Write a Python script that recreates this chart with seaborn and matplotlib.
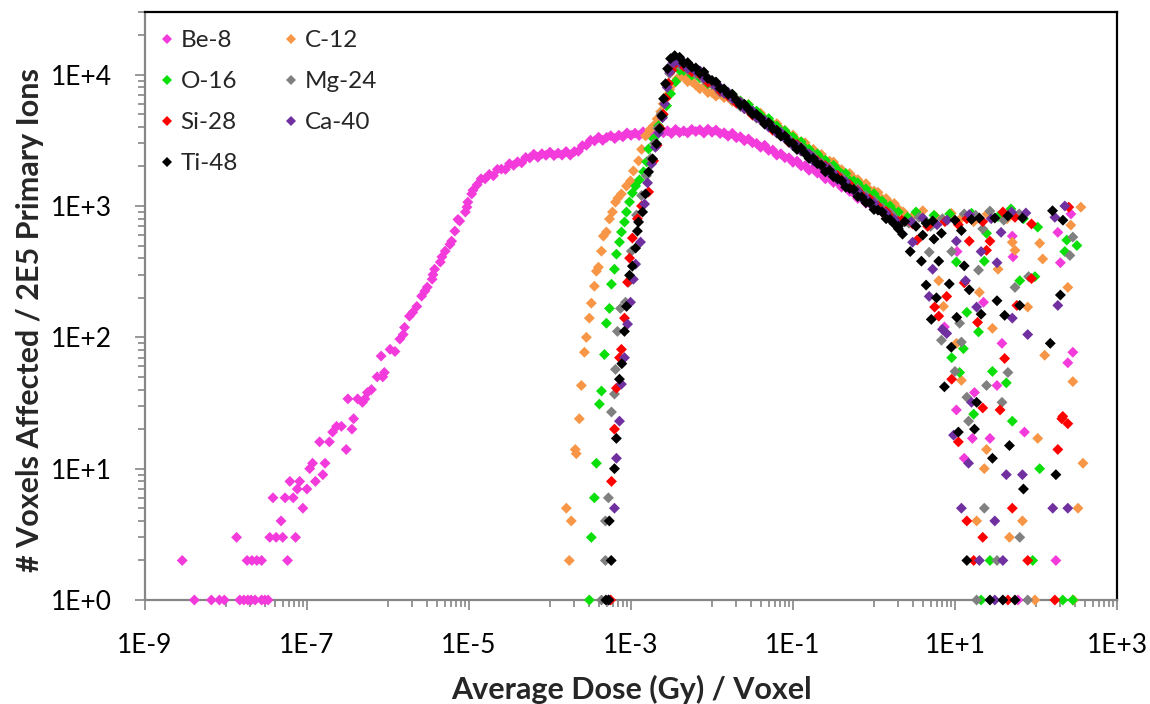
import matplotlib
matplotlib.use("Agg")
import numpy as np
import pandas as pd
import matplotlib.pyplot as plt
from matplotlib.lines import Line2D
from matplotlib.ticker import FixedLocator, NullFormatter, LogLocator
import seaborn as sns

ions = ["Be-8", "C-12", "O-16", "Mg-24", "Si-28", "Ca-40", "Ti-48"]
colors = ["#F33BDB", "#F79646", "#0ADF0A", "#808080", "#FF0000", "#7030A0", "#000000"]

# ---------------- Be-8 ----------------
be8_low_dose = [4.07e-9, 6.60e-9, 8.30e-9, 9.53e-9, 1.48e-8, 1.66e-8, 1.86e-8, 2.04e-8, 2.29e-8, 2.75e-8, 3.02e-8, 3.31e-8,
                2.88e-9, 1.82e-8, 2.09e-8, 2.40e-8, 2.75e-8, 5.75e-8,
                1.35e-8, 3.47e-8, 4.16e-8, 5.01e-8, 7.23e-8,
                4.78e-8, 8.90e-8, 3.80e-8, 5.36e-8, 6.75e-8, 7.58e-8, 9.98e-8, 6.15e-8, 8.12e-8]
be8_low_count = [1, 1, 1, 1, 1, 1, 1, 1, 1, 1, 1, 1,
                 2, 2, 2, 2, 2, 2,
                 3, 3, 3, 3, 3,
                 4, 5, 6, 6, 6, 7, 7, 8, 8]

be8_rise_dose = [1.08e-7, 1.17e-7, 1.27e-7, 1.43e-7, 1.57e-7, 1.67e-7, 1.89e-7, 2.07e-7, 2.32e-7, 2.66e-7,
                 3.05e-7, 3.20e-7, 3.59e-7, 3.76e-7, 4.22e-7, 4.84e-7, 5.19e-7, 5.57e-7, 6.24e-7, 7.34e-7,
                 8.23e-7, 8.62e-7, 9.02e-7, 1.06e-6, 1.22e-6, 1.40e-6, 1.54e-6, 1.60e-6, 1.84e-6, 2.02e-6,
                 2.27e-6, 2.60e-6, 2.85e-6, 3.05e-6, 3.51e-6, 3.59e-6, 3.76e-6, 4.42e-6, 4.63e-6, 5.08e-6,
                 5.83e-6, 6.10e-6, 6.69e-6, 7.31e-6, 7.67e-6, 9.02e-6, 9.43e-6, 9.67e-6, 1.08e-5]
be8_rise_count = [10, 11, 8, 16, 9, 11, 16, 19, 21, 21,
                  14, 34, 20, 24, 34, 32, 34, 38, 40, 50,
                  72, 50, 54, 81, 78, 97, 105, 119, 145, 155,
                  172, 206, 225, 241, 277, 300, 330, 374, 410, 453,
                  510, 540, 644, 790, 768, 900, 980, 1070, 1236]

be8_band_dose = [1.12e-5, 1.26e-5, 1.41e-5, 1.58e-5, 1.78e-5, 2.00e-5, 2.24e-5, 2.51e-5, 2.82e-5, 3.16e-5,
                 3.55e-5, 3.98e-5, 4.47e-5, 5.01e-5, 5.62e-5, 6.31e-5, 7.08e-5, 7.94e-5, 8.91e-5, 1.00e-4,
                 1.12e-4, 1.26e-4, 1.41e-4, 1.58e-4, 1.78e-4, 2.00e-4, 2.24e-4, 2.51e-4, 2.82e-4, 3.16e-4,
                 3.55e-4, 3.98e-4, 4.47e-4, 5.01e-4, 5.62e-4, 6.31e-4, 7.08e-4, 7.94e-4, 8.91e-4, 1.00e-3,
                 1.12e-3, 1.26e-3, 1.41e-3, 1.58e-3, 1.78e-3, 2.00e-3, 2.24e-3, 2.51e-3, 2.82e-3, 3.16e-3,
                 3.55e-3, 3.98e-3, 4.47e-3, 5.01e-3, 5.62e-3, 6.31e-3, 7.08e-3, 7.94e-3, 8.91e-3, 1.00e-2,
                 1.12e-2, 1.26e-2, 1.41e-2, 1.58e-2, 1.78e-2, 2.00e-2, 2.24e-2, 2.51e-2, 2.82e-2, 3.16e-2,
                 3.55e-2, 3.98e-2, 4.47e-2, 5.01e-2, 5.62e-2, 6.31e-2, 7.08e-2, 7.94e-2, 8.91e-2, 1.00e-1,
                 0.112, 0.126, 0.141, 0.158, 0.178, 0.200, 0.224, 0.251, 0.282, 0.316,
                 0.355, 0.398, 0.447, 0.501, 0.562, 0.631, 0.708, 0.794, 0.891, 1.00]
be8_band_count = [1318, 1450, 1610, 1610, 1740, 1700, 1900, 1910, 1900, 2100,
                  2040, 2170, 2130, 2340, 2320, 2480, 2350, 2500, 2430, 2570,
                  2420, 2530, 2440, 2600, 2440, 2600, 2610, 2880, 2900, 3170,
                  3130, 3340, 3160, 3330, 3430, 3260, 3460, 3360, 3600, 3450,
                  3590, 3440, 3670, 3510, 3630, 3470, 3740, 3610, 3740, 3560,
                  3830, 3620, 3730, 3600, 3830, 3690, 3810, 3590, 3850, 3640,
                  3790, 3560, 3610, 3400, 3580, 3310, 3370, 3140, 3240, 3030,
                  3000, 2800, 2900, 2650, 2670, 2440, 2500, 2330, 2330, 2150,
                  2200, 2020, 2030, 1870, 1940, 1780, 1740, 1610, 1650, 1510,
                  1520, 1390, 1410, 1290, 1250, 1140, 1160, 1050, 1045, 990]

be8_spread_dose = [270, 186, 200, 51, 52, 22.5, 7.4, 38, 285, 247,
                   33, 17.4, 10.4, 16.4, 27, 72, 13, 176, 60, 10.6]
be8_spread_count = [870, 630, 370, 590, 410, 185, 120, 90, 77, 64,
                    43, 38, 28, 17, 17, 19, 12, 2, 1, 450]

# dose bins along the falling side of the heavy-ion peak (shared by all heavy ions)
tail_dose = [3.98e-3, 4.47e-3, 5.01e-3, 5.62e-3, 6.31e-3, 7.08e-3, 7.94e-3, 8.91e-3, 1.00e-2, 1.12e-2,
             1.26e-2, 1.41e-2, 1.58e-2, 1.78e-2, 2.00e-2, 2.24e-2, 2.51e-2, 2.82e-2, 3.16e-2, 3.55e-2,
             3.98e-2, 4.47e-2, 5.01e-2, 5.62e-2, 6.31e-2, 7.08e-2, 7.94e-2, 8.91e-2, 0.100, 0.112,
             0.126, 0.141, 0.158, 0.178, 0.200, 0.224, 0.251, 0.282, 0.316, 0.355,
             0.398, 0.447, 0.501, 0.562, 0.631, 0.708, 0.794, 0.891, 1.00, 1.12,
             1.26, 1.41, 1.58, 1.78, 2.00]

# ---------------- C-12 ----------------
c12_rise_dose = [1.59e-4, 1.73e-4, 1.83e-4, 2.05e-4, 2.11e-4, 2.30e-4, 2.44e-4, 2.66e-4, 2.81e-4, 3.06e-4,
                 3.24e-4, 3.53e-4, 3.74e-4, 3.96e-4, 4.32e-4, 4.56e-4, 4.97e-4, 5.42e-4, 5.90e-4, 6.43e-4,
                 6.90e-4, 7.62e-4, 8.79e-4, 9.86e-4, 1.07e-3, 1.24e-3, 1.35e-3, 1.51e-3, 1.70e-3, 1.90e-3,
                 2.10e-3, 2.32e-3, 2.50e-3, 2.75e-3, 3.00e-3, 3.36e-3, 3.70e-3]
c12_rise_count = [5, 2, 4, 14, 13, 24, 43, 77, 100, 140,
                  182, 245, 319, 342, 453, 590, 634, 796, 900, 1070,
                  1150, 1236, 1420, 1553, 1850, 2206, 2700, 3420, 3800, 4080,
                  4600, 5220, 6000, 6920, 7700, 8540, 9300]
c12_tail_count = [9470, 9720, 8850, 8880, 8320, 7800, 8070, 7300, 7310, 6870,
                  7130, 6690, 6740, 6270, 6500, 6110, 5780, 5930, 5270, 5230,
                  5090, 4620, 4490, 4150, 4240, 3840, 3770, 3420, 3470, 3150,
                  3090, 3030, 2700, 2700, 2490, 2470, 2220, 2200, 2160, 1950,
                  1890, 1750, 1770, 1620, 1590, 1450, 1480, 1320, 1300, 1270,
                  1130, 1140, 1050, 1045, 950]
c12_spread_dose = [2.3, 3.1, 4.0, 5.8, 9.0, 12, 17, 25, 44, 358,
                   269, 51, 55, 111, 121, 34, 247, 20, 79, 29,
                   128, 285, 12, 6.3, 7.2, 10.4, 105, 24.5, 23, 380,
                   330, 18.5, 68, 47, 97, 290]
c12_spread_count = [900, 850, 920, 830, 880, 810, 760, 870, 800, 980,
                    715, 530, 460, 520, 395, 330, 240, 220, 170, 117,
                    73, 46, 47, 270, 172, 90, 17, 14, 10, 11,
                    5, 4, 4, 3, 1, 1]

# ---------------- O-16 ----------------
o16_rise_dose = [3.06e-4, 3.24e-4, 3.53e-4, 3.74e-4, 4.07e-4, 4.32e-4, 4.70e-4, 4.97e-4, 5.42e-4, 5.74e-4,
                 6.25e-4, 6.61e-4, 7.21e-4, 7.63e-4, 8.31e-4, 8.79e-4, 9.58e-4, 1.04e-3, 1.14e-3, 1.27e-3,
                 1.43e-3, 1.56e-3, 1.65e-3, 1.90e-3, 2.19e-3, 2.46e-3, 2.75e-3, 3.08e-3, 3.56e-3]
o16_rise_count = [1, 3, 6, 11, 31, 39, 74, 128, 166, 254,
                  330, 430, 531, 634, 755, 900, 1073, 1257, 1420, 1580,
                  1820, 2170, 2720, 3250, 4080, 4860, 5800, 7160, 8850]
o16_tail_count = [10810, 10740, 10910, 9920, 10090, 9450, 9530, 8530, 8510, 8330,
                  7600, 7600, 6920, 7090, 6460, 6310, 5800, 5900, 5330, 5280,
                  4920, 4540, 4630, 4150, 4060, 3710, 3740, 3420, 3350, 3030,
                  3080, 2760, 2710, 2470, 2490, 2280, 2230, 2000, 2040, 1880,
                  1750, 1770, 1560, 1550, 1500, 1360, 1350, 1210, 1240, 1120,
                  1090, 990, 1000, 905, 900]
o16_spread_dose = [2.6, 3.3, 4.2, 5.5, 8.6, 16, 34, 49, 70, 105,
                   24.5, 10.4, 23, 63, 97, 14, 19.5, 12.7, 9.1, 29,
                   43, 11.4, 320, 227, 240, 17, 51, 111, 91, 27,
                   21, 214, 285]
o16_spread_count = [820, 900, 780, 850, 870, 880, 830, 950, 800, 690,
                    620, 375, 380, 270, 290, 155, 110, 82, 70, 55,
                    45, 54, 500, 450, 550, 26, 23, 10, 2, 2,
                    1, 1, 1]

# ---------------- Mg-24 ----------------
mg24_rise_dose = [4.32e-4, 4.83e-4, 4.83e-4, 5.26e-4, 5.74e-4, 6.25e-4, 6.43e-4, 6.80e-4, 7.41e-4, 8.55e-4,
                  9.30e-4, 1.01e-3, 1.17e-3, 1.35e-3, 1.55e-3, 1.75e-3, 1.95e-3, 2.15e-3, 2.35e-3, 2.55e-3,
                  2.75e-3, 3.00e-3, 3.40e-3]
mg24_rise_count = [1, 2, 4, 6, 27, 37, 57, 111, 166, 185,
                   263, 453, 854, 1200, 1700, 2300, 3000, 3900, 5000, 6500,
                   8300, 10200, 11800]
mg24_tail_count = [11770, 11770, 10920, 11030, 10120, 10020, 9140, 9220, 8420, 8220,
                   7350, 7490, 6910, 6420, 6470, 5720, 5720, 5280, 5210, 4660,
                   4610, 4500, 4030, 3900, 3590, 3620, 3310, 3220, 2910, 2880,
                   2820, 2530, 2440, 2390, 2130, 2130, 1970, 1970, 1740, 1720,
                   1660, 1500, 1450, 1340, 1360, 1230, 1200, 1090, 1100, 1000,
                   970, 880, 890, 820, 765]
mg24_spread_dose = [2.7, 3.6, 5.0, 7.0, 13, 18, 27, 40, 62, 22,
                    19.5, 55, 11.4, 6.8, 12, 10, 45, 24.5, 14, 38,
                    285, 262, 9.1, 4.8, 81, 14.7, 23, 63, 33, 18.5,
                    79]
mg24_spread_count = [740, 820, 700, 800, 870, 850, 915, 780, 870, 670,
                     325, 240, 128, 95, 92, 55, 54, 43, 35, 32,
                     580, 420, 450, 445, 290, 23, 5, 3, 2, 1,
                     1]

# ---------------- Si-28 ----------------
si28_rise_dose = [5.60e-4, 5.74e-4, 6.25e-4, 6.61e-4, 7.21e-4, 7.62e-4, 8.31e-4, 9.06e-4, 9.60e-4, 1.04e-3,
                  1.20e-3, 1.35e-3, 1.65e-3, 1.90e-3, 2.10e-3, 2.30e-3, 2.50e-3, 2.70e-3, 2.90e-3, 3.20e-3,
                  3.60e-3]
si28_rise_count = [1, 8, 20, 41, 70, 81, 140, 263, 401, 570,
                   800, 1000, 1280, 2205, 2900, 3900, 5000, 6600, 8600, 10800,
                   12300]
si28_tail_count = [12780, 11550, 11370, 10500, 10940, 9990, 9760, 8720, 8870, 8160,
                   7510, 7560, 6900, 6730, 6070, 6180, 5520, 5390, 4920, 4940,
                   4560, 4240, 4260, 3770, 3760, 3470, 3410, 3050, 3010, 2940,
                   2630, 2550, 2480, 2220, 2210, 2020, 2030, 1830, 1710, 1710,
                   1580, 1470, 1460, 1310, 1310, 1210, 1120, 1130, 1020, 1000,
                   900, 910, 835, 780, 765]
si28_spread_dose = [2.2, 3.0, 4.6, 7.5, 11, 14, 22, 39, 55, 88,
                    254, 15, 27, 24.5, 3.4, 7.9, 5.6, 6.3, 13, 19,
                    88, 58, 41, 9.1, 36, 214, 22, 208, 247, 11,
                    186, 51, 14, 22, 79, 17, 45, 171]
si28_spread_count = [780, 730, 700, 760, 720, 800, 760, 900, 820, 730,
                     980, 540, 540, 460, 550, 205, 170, 145, 260, 130,
                     280, 175, 69, 48, 28, 25, 29, 24, 22, 16,
                     14, 5, 4, 3, 2, 2, 1, 1]

# ---------------- Ca-40 ----------------
ca40_rise_dose = [5.26e-4, 6.25e-4, 6.61e-4, 7.21e-4, 7.62e-4, 8.31e-4, 9.06e-4, 9.86e-4, 1.07e-3, 1.14e-3,
                  1.31e-3, 1.47e-3, 1.60e-3, 1.80e-3, 2.00e-3, 2.20e-3, 2.45e-3, 2.60e-3, 2.80e-3, 3.00e-3,
                  3.30e-3, 3.60e-3]
ca40_rise_count = [1, 5, 12, 23, 44, 70, 126, 185, 277, 361,
                   531, 1035, 1500, 2100, 2800, 3600, 4700, 6000, 8000, 10500,
                   12300, 12800]
ca40_tail_count = [12450, 12420, 11160, 11260, 10620, 10690, 9450, 9320, 9000, 8110,
                   8010, 7210, 7330, 6600, 6380, 6170, 5510, 5490, 5290, 4730,
                   4530, 4470, 3990, 3980, 3610, 3630, 3280, 3160, 2880, 2890,
                   2620, 2580, 2490, 2200, 2170, 2010, 1990, 1790, 1770, 1590,
                   1570, 1530, 1370, 1310, 1290, 1150, 1150, 1050, 1050, 940,
                   910, 880, 790, 790, 720]
ca40_spread_dose = [2.9, 4.0, 6.0, 8.0, 15, 28, 50, 75, 227, 171,
                    37, 21, 33, 13.5, 4.8, 18.5, 51, 79, 186, 7.0,
                    7.9, 16, 10.4, 3.0, 5.3, 9.6, 14.7, 43, 68, 12,
                    161, 247, 31, 20, 39, 31]
ca40_spread_count = [760, 810, 720, 780, 860, 800, 900, 885, 1000, 820,
                     630, 450, 370, 270, 205, 170, 140, 105, 175, 115,
                     107, 32, 540, 530, 330, 18, 11, 9, 9, 5,
                     5, 5, 4, 2, 2, 1]

# ---------------- Ti-48 ----------------
ti48_rise_dose = [4.90e-4, 5.30e-4, 5.40e-4, 5.70e-4, 6.25e-4, 6.60e-4, 7.20e-4, 7.70e-4, 8.30e-4, 8.80e-4,
                  9.60e-4, 1.04e-3, 1.14e-3, 1.20e-3, 1.24e-3, 1.39e-3, 1.51e-3, 1.65e-3, 1.85e-3, 2.07e-3,
                  2.25e-3, 2.39e-3, 2.53e-3, 2.67e-3, 2.83e-3, 3.08e-3, 3.46e-3]
ti48_rise_count = [1, 1, 4, 2, 10, 17, 48, 63, 111, 172,
                   297, 348, 478, 644, 755, 900, 1235, 1820, 2285, 2970,
                   3870, 4860, 6560, 8540, 11100, 13250, 13960]
ti48_tail_count = [13570, 12220, 12360, 11390, 11260, 10240, 10490, 9360, 9030, 8800,
                   7840, 7790, 7090, 7100, 6400, 5870, 5950, 5470, 5010, 4990,
                   4680, 4200, 4310, 3880, 3770, 3400, 3410, 3070, 2990, 2690,
                   2760, 2510, 2300, 2310, 2100, 2050, 1820, 1870, 1670, 1620,
                   1560, 1390, 1360, 1340, 1180, 1170, 1060, 1060, 940, 930,
                   900, 800, 790, 730, 700]
ti48_spread_dose = [2.0, 2.25, 2.4, 3.3, 4.4, 5.3, 6.8, 10, 12, 16,
                    20, 31, 45, 68, 160, 215, 2.8, 3.85, 6.3, 13,
                    8.5, 4.4, 5.9, 15, 33, 5.1, 10.5, 41, 63, 21,
                    9.0, 150, 200, 7.4, 18.5, 11, 17.4, 47, 29, 176,
                    70, 14, 27, 39, 55, 4.0, 5.5]
ti48_spread_count = [670, 610, 760, 700, 740, 770, 620, 780, 650, 790,
                     810, 810, 840, 810, 920, 780, 450, 380, 380, 350,
                     255, 250, 200, 230, 190, 137, 142, 147, 175, 150,
                     84, 90, 210, 42, 32, 19, 20, 15, 12, 9,
                     7, 2, 1, 1, 1, 600, 560]

# ---------------- assemble in drawing order (Ti-48 ends up on top) ----------------
def series(ion, dose_parts, count_parts):
    dose = [d for part in dose_parts for d in part]
    count = [c for part in count_parts for c in part]
    return pd.DataFrame({"ion": ion, "dose": dose, "count": count})

df = pd.concat([
    series("Be-8", [be8_low_dose, be8_rise_dose, be8_band_dose, be8_spread_dose],
           [be8_low_count, be8_rise_count, be8_band_count, be8_spread_count]),
    series("C-12", [c12_rise_dose, tail_dose, c12_spread_dose],
           [c12_rise_count, c12_tail_count, c12_spread_count]),
    series("O-16", [o16_rise_dose, tail_dose, o16_spread_dose],
           [o16_rise_count, o16_tail_count, o16_spread_count]),
    series("Mg-24", [mg24_rise_dose, tail_dose, mg24_spread_dose],
           [mg24_rise_count, mg24_tail_count, mg24_spread_count]),
    series("Si-28", [si28_rise_dose, tail_dose, si28_spread_dose],
           [si28_rise_count, si28_tail_count, si28_spread_count]),
    series("Ca-40", [ca40_rise_dose, tail_dose, ca40_spread_dose],
           [ca40_rise_count, ca40_tail_count, ca40_spread_count]),
    series("Ti-48", [ti48_rise_dose, tail_dose, ti48_spread_dose],
           [ti48_rise_count, ti48_tail_count, ti48_spread_count]),
], ignore_index=True)

x_major = [1e-9, 1e-7, 1e-5, 1e-3, 1e-1, 1e1, 1e3]
x_labels = ["1E-9", "1E-7", "1E-5", "1E-3", "1E-1", "1E+1", "1E+3"]
y_major = [1, 10, 100, 1000, 10000]
y_labels = ["1E+0", "1E+1", "1E+2", "1E+3", "1E+4"]

# ---------------- figure ----------------
sns.set_theme(style="white")
plt.rcParams["font.family"] = ["Lato", "DejaVu Sans"]

fig = plt.figure(figsize=(11.5, 7.04), dpi=100)
ax = fig.add_axes([145 / 1150, 104 / 704, 972 / 1150, 588 / 704])
ax.set_xscale("log")
ax.set_yscale("log")

palette = dict(zip(ions, colors))
sns.scatterplot(data=df, x="dose", y="count", hue="ion", hue_order=ions, palette=palette,
                marker="D", s=31, linewidth=0, legend=False, ax=ax, clip_on=False, zorder=3)

ax.set_xlim(1e-9, 1e3)
ax.set_ylim(1, 3e4)
ax.set_xlabel("")
ax.set_ylabel("")

ax.set_xticks(x_major)
ax.set_xticklabels(x_labels)
minor_x = [m * 10 * d for d in x_major[:-1] for m in range(1, 10)]
ax.xaxis.set_minor_locator(FixedLocator(minor_x))
ax.xaxis.set_minor_formatter(NullFormatter())

ax.set_yticks(y_major)
ax.set_yticklabels(y_labels)
ax.yaxis.set_minor_locator(LogLocator(base=10, subs=np.arange(2, 10), numticks=50))
ax.yaxis.set_minor_formatter(NullFormatter())

axis_grey = "#868686"
ax.tick_params(axis="both", which="both", bottom=True, left=True, top=False, right=False,
               direction="out", color=axis_grey, width=1.2)
ax.tick_params(axis="both", which="major", length=7, labelsize=19, labelcolor="black", pad=17)
ax.tick_params(axis="both", which="minor", length=5)

for side in ["left", "bottom"]:
    ax.spines[side].set_color(axis_grey)
    ax.spines[side].set_linewidth(1.6)
for side in ["top", "right"]:
    ax.spines[side].set_color("black")
    ax.spines[side].set_linewidth(1.6)

fig.text(631 / 1150, 1 - 689 / 704, "Average Dose (Gy) / Voxel", ha="center", va="center",
         fontsize=22, fontweight="bold")
fig.text(30 / 1150, 1 - 320 / 704, "# Voxels Affected / 2E5 Primary Ions", rotation=90,
         ha="center", va="center", fontsize=22, fontweight="bold")

# two-column legend, filled row by row
legend_order = ["Be-8", "O-16", "Si-28", "Ti-48", "C-12", "Mg-24", "Ca-40"]
handles = [Line2D([], [], marker="D", linestyle="", color=palette[n], markersize=5.5,
                  markeredgewidth=0) for n in legend_order]
ax.legend(handles, legend_order, ncol=2, loc="upper left", bbox_to_anchor=(0.0154, 0.969),
          frameon=False, fontsize=17.5, handlelength=0.55, handletextpad=0.3,
          columnspacing=1.9, labelspacing=0.82, borderpad=0, borderaxespad=0)

fig.savefig("out.png", dpi=100)
